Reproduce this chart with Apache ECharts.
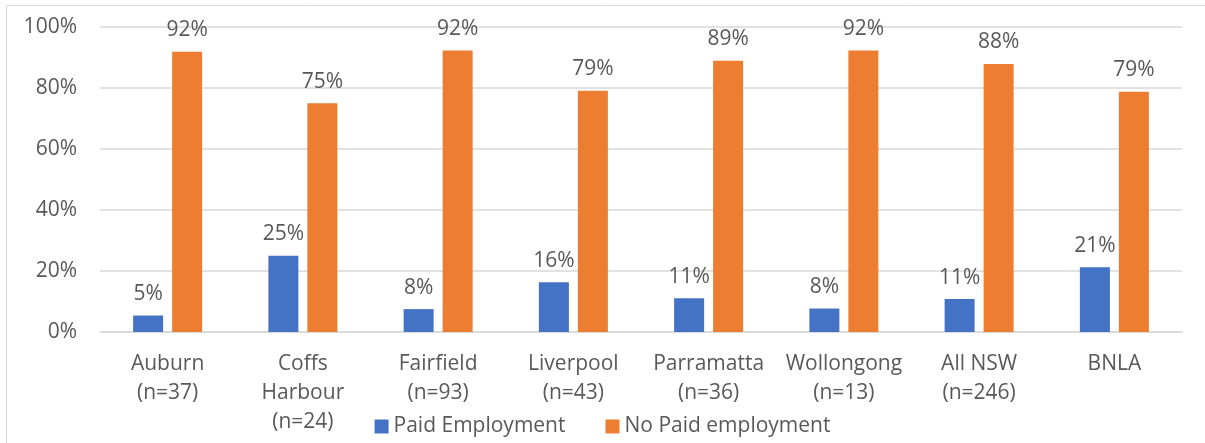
<!DOCTYPE html>
<html>
<head>
<meta charset="utf-8">
<script src="https://cdn.jsdelivr.net/npm/echarts@6/dist/echarts.min.js"></script>
<style>
  html, body { margin: 0; padding: 0; background: #fff; }
  #main { width: 1205px; height: 443px; }
</style>
</head>
<body>
<div id="main"></div>
<script>
// categories and values
const categories = ['Auburn\n(n=37)', 'Coffs\nHarbour\n(n=24)', 'Fairfield\n(n=93)', 'Liverpool\n(n=43)',
  'Parramatta\n(n=36)', 'Wollongong\n(n=13)', 'All NSW\n(n=246)', 'BNLA'];
const paid = [5.4, 25, 7.5, 16.3, 11.1, 7.7, 10.8, 21.2];
const noPaid = [91.9, 75, 92.3, 79.1, 88.9, 92.3, 87.9, 78.8];
const yTicks = [0, 20, 40, 60, 80, 100];

const textColor = '#595959';
const fontFamily = 'Open Sans, Liberation Sans, sans-serif';
const fs = 21;

const chart = echarts.init(document.getElementById('main'));
const option = {
  animation: false,
  textStyle: { fontFamily: fontFamily, color: textColor },
  graphic: [{
    type: 'rect',
    shape: { x: 6.5, y: 5.5, width: 1230, height: 460 },
    style: { fill: 'none', stroke: '#d9d9d9', lineWidth: 1 },
    silent: true
  }],
  grid: { left: 100, right: 23, top: 27, bottom: 111 },
  legend: {
    top: 411,
    left: 'center',
    itemWidth: 14,
    itemHeight: 14,
    itemGap: 40,
    icon: 'rect',
    textStyle: { fontSize: fs, color: textColor, fontFamily: fontFamily }
  },
  xAxis: {
    type: 'category',
    data: categories,
    axisLine: { show: true, lineStyle: { color: '#d9d9d9', width: 1.5 } },
    axisTick: { show: false },
    axisLabel: { color: textColor, fontSize: fs, lineHeight: 29, margin: 18, interval: 0 }
  },
  yAxis: {
    type: 'value',
    min: yTicks[0],
    max: yTicks[yTicks.length - 1],
    interval: 20,
    axisLine: { show: false },
    axisTick: { show: false },
    splitLine: { lineStyle: { color: '#d9d9d9', width: 1.5 } },
    axisLabel: { color: textColor, fontSize: fs, margin: 23, formatter: '{value}%' }
  },
  series: [
    {
      name: 'Paid Employment',
      type: 'bar',
      data: paid,
      barWidth: 30,
      barGap: '30%',
      itemStyle: { color: '#4472C4' },
      label: {
        show: true, position: 'top', distance: 11, fontSize: fs, color: textColor,
        formatter: p => Math.round(p.value) + '%'
      }
    },
    {
      name: 'No Paid employment',
      type: 'bar',
      data: noPaid,
      barWidth: 30,
      itemStyle: { color: '#ED7D31' },
      label: {
        show: true, position: 'top', distance: 11, fontSize: fs, color: textColor,
        formatter: p => Math.round(p.value) + '%'
      }
    }
  ]
};
chart.setOption(option);
</script>
</body>
</html>
